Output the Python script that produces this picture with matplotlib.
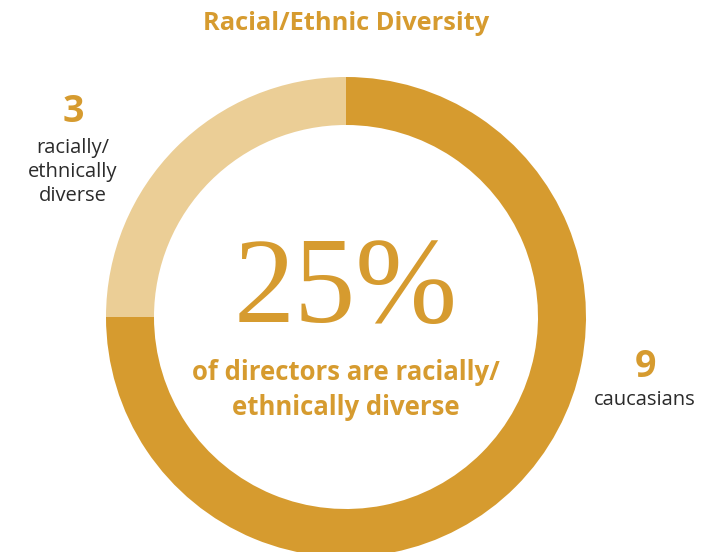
import matplotlib
matplotlib.use('Agg')
from matplotlib import pyplot as plt

# data
labels = ['racially/\nethnically\ndiverse', 'caucasians']
counts = [3, 9]
pct_text = '25%'
subtitle = 'of directors are racially/\nethnically diverse'
title = 'Racial/Ethnic Diversity'

gold = '#D69B2F'
light = '#EBCE96'
dark_text = '#2b2b2b'

W, H = 728, 552
fig = plt.figure(figsize=(W / 100, H / 100), dpi=100)
ax = fig.add_axes([0, 0, 1, 1])

# donut, light slice in the top-left quadrant
ax.pie(counts, colors=[light, gold], startangle=90, counterclock=True,
       center=(346, H - 317), radius=240,
       wedgeprops=dict(width=48, linewidth=0))
ax.set_xlim(0, W)
ax.set_ylim(0, H)
ax.set_aspect('equal')
ax.set_axis_off()

sans = 'Open Sans'
ax.text(346, H - 23, title, ha='center', va='center', fontsize=18.3,
        fontweight='bold', color=gold, family=sans)

# big percentage in the middle
ax.text(346, H - 292, pct_text, ha='center', va='center', fontsize=88,
        color=gold, family='Liberation Serif')
ax.text(346, H - 390, subtitle, ha='center', va='center', fontsize=18.5,
        fontweight='bold', color=gold, family=sans, linespacing=1.4)

# left label
ax.text(73, H - 112, str(counts[0]), ha='center', va='center', fontsize=27,
        fontweight='bold', color=gold, family=sans)
ax.text(73, H - 172, labels[0], ha='center', va='center', fontsize=14.5,
        color=dark_text, family=sans, linespacing=1.25)

# right label
ax.text(645, H - 367, str(counts[1]), ha='center', va='center', fontsize=27,
        fontweight='bold', color=gold, family=sans)
ax.text(645, H - 400, labels[1], ha='center', va='center', fontsize=14.5,
        color=dark_text, family=sans)

fig.savefig('out.png', dpi=100)
